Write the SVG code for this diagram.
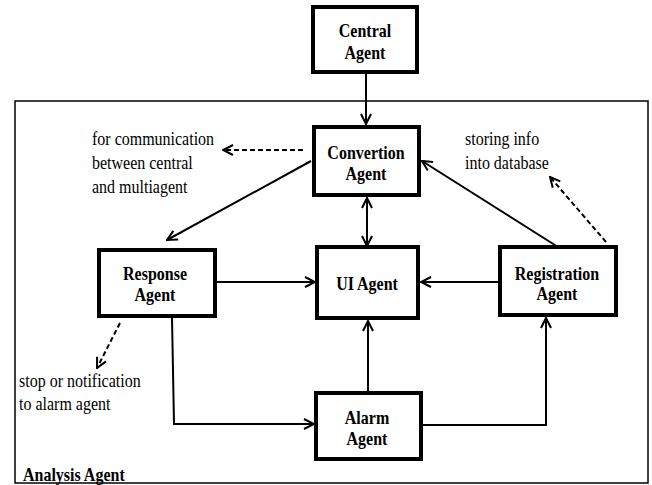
<svg xmlns="http://www.w3.org/2000/svg" width="652" height="485" viewBox="0 0 652 485" font-family="'Liberation Serif', 'Times New Roman', 'DejaVu Serif', serif">
<style>
text{font-family:'Liberation Serif','Times New Roman','DejaVu Serif',serif}
.box{fill:#fff;stroke:#000;stroke-width:4}
.lbl{font-size:16px;font-weight:bold;text-anchor:middle;fill:#000}
.note{font-size:16px;fill:#000}
.c{fill:none;stroke:#000;stroke-width:2}
.d{fill:none;stroke:#000;stroke-width:2;stroke-dasharray:5,3}
</style>
<defs>
<marker id="ah" viewBox="0 0 12 12" refX="11" refY="6" markerWidth="12" markerHeight="12" markerUnits="userSpaceOnUse" orient="auto-start-reverse">
<path d="M1,1 L11,6 L1,11" fill="none" stroke="#000" stroke-width="2"/>
</marker>
</defs>
<rect id="analysis" x="15" y="101" width="633" height="382" fill="none" stroke="#000" stroke-width="1.5"/>
<text class="note" transform="translate(23,481) scale(1,1.2)" font-weight="bold">Analysis Agent</text>
<g id="connectors">
<line class="c" x1="366" y1="74" x2="366" y2="124" marker-end="url(#ah)"/>
<line class="d" x1="303" y1="150" x2="223" y2="150" marker-end="url(#ah)"/>
<line class="c" x1="311" y1="161" x2="167" y2="240" marker-end="url(#ah)"/>
<line class="c" x1="558" y1="247" x2="422" y2="161" marker-end="url(#ah)"/>
<line class="c" x1="367" y1="198" x2="367" y2="246" marker-start="url(#ah)" marker-end="url(#ah)"/>
<line class="d" x1="606" y1="242" x2="550" y2="177" marker-end="url(#ah)"/>
<line class="c" x1="217" y1="282" x2="315" y2="282" marker-end="url(#ah)"/>
<line class="c" x1="500" y1="282" x2="421" y2="282" marker-end="url(#ah)"/>
<line class="c" x1="368" y1="391" x2="368" y2="321" marker-end="url(#ah)"/>
<polyline class="c" points="172,318 174,424 314,424" marker-end="url(#ah)"/>
<polyline class="c" points="423,425 546,425 546,318" marker-end="url(#ah)"/>
<line class="d" x1="120" y1="323" x2="97" y2="368" marker-end="url(#ah)"/>
</g>
<g id="central"><rect class="box" x="313" y="7" width="104" height="65"/><text class="lbl" transform="translate(365,37) scale(1,1.2)">Central</text><text class="lbl" transform="translate(365,59) scale(1,1.2)">Agent</text></g>
<g id="convertion"><rect class="box" x="314" y="127" width="105" height="68"/><text class="lbl" transform="translate(366,159) scale(1,1.2)">Convertion</text><text class="lbl" transform="translate(366,180) scale(1,1.2)">Agent</text></g>
<g id="response"><rect class="box" x="99" y="250" width="116" height="66"/><text class="lbl" transform="translate(155,280) scale(1,1.2)">Response</text><text class="lbl" transform="translate(155,301) scale(1,1.2)">Agent</text></g>
<g id="ui"><rect class="box" x="317" y="247" width="101" height="71"/><text class="lbl" transform="translate(367,290) scale(1,1.2)">UI Agent</text></g>
<g id="registration"><rect class="box" x="500" y="247" width="116" height="68"/><text class="lbl" transform="translate(557,280) scale(1,1.2)">Registration</text><text class="lbl" transform="translate(557,300) scale(1,1.2)">Agent</text></g>
<g id="alarm"><rect class="box" x="316" y="393" width="105" height="66"/><text class="lbl" transform="translate(367,424) scale(1,1.2)">Alarm</text><text class="lbl" transform="translate(367,445) scale(1,1.2)">Agent</text></g>
<g id="notes">
<text class="note" transform="translate(92,145) scale(1,1.2)">for communication</text>
<text class="note" transform="translate(92,169) scale(1,1.2)">between central</text>
<text class="note" transform="translate(92,193) scale(1,1.2)">and multiagent</text>
<text class="note" transform="translate(465,145) scale(1,1.2)">storing info</text>
<text class="note" transform="translate(465,169) scale(1,1.2)">into database</text>
<text class="note" transform="translate(19,387) scale(1,1.2)">stop or notification</text>
<text class="note" transform="translate(19,410) scale(1,1.2)">to alarm agent</text>
</g>
</svg>
